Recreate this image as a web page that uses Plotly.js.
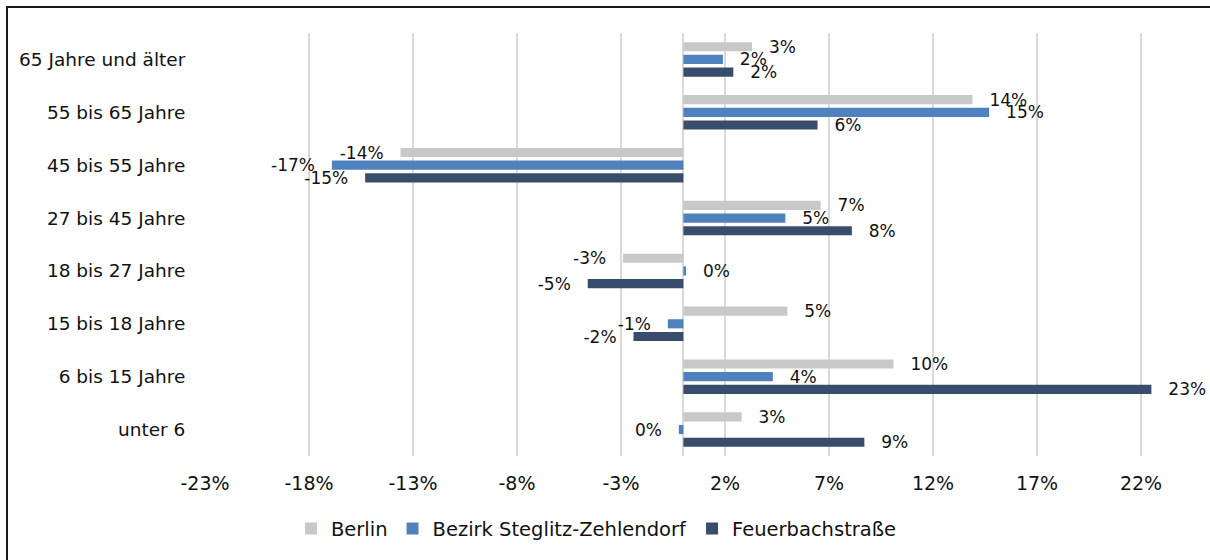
<!DOCTYPE html>
<html>
<head>
<meta charset="utf-8">
<script src="https://cdn.plot.ly/plotly-3.0.1.min.js"></script>
<style>
  html, body { margin: 0; padding: 0; background: #fff; }
  #wrap { position: relative; width: 1210px; height: 560px; overflow: hidden; }
  #chart { width: 1210px; height: 560px; }
  #frame { position: absolute; left: 6px; top: 6px; width: 1300px; height: 700px;
           border-top: 2px solid #1a1a1a; border-left: 2px solid #1a1a1a; pointer-events: none; }
</style>
</head>
<body>
<div id="wrap">
  <div id="chart"></div>
  <div id="frame"></div>
</div>
<script>
// Categories (top to bottom as shown)
const categories = ["65 Jahre und älter", "55 bis 65 Jahre", "45 bis 55 Jahre", "27 bis 45 Jahre",
                    "18 bis 27 Jahre", "15 bis 18 Jahre", "6 bis 15 Jahre", "unter 6"];
// Series values in percent
const seriesNames = ["Berlin", "Bezirk Steglitz-Zehlendorf", "Feuerbachstraße"];
const berlin    = [3.3, 13.9, -13.6, 6.6, -2.9, 5.0, 10.1, 2.8];
const bezirk    = [1.9, 14.7, -16.9, 4.9, 0.13, -0.75, 4.3, -0.22];
const feuerbach = [2.4, 6.45, -15.3, 8.1, -4.6, -2.4, 22.5, 8.7];
// Axis ticks
const tickVals = [-23, -18, -13, -8, -3, 2, 7, 12, 17, 22];
const tickText = tickVals.map(v => v + "%");

const colors = ["#c8c8c8", "#4f81bd", "#384d6c"];
const FONT = "DejaVu Sans";

function labels(vals) {
  return vals.map(v => {
    const r = Math.round(v);
    const s = (r === 0 ? 0 : r) + "%";
    return v >= 0 ? "\u2002\u00a0" + s : s + "\u2002\u00a0";
  });
}

const data = [berlin, bezirk, feuerbach].map((vals, i) => ({
  type: "bar",
  orientation: "h",
  name: seriesNames[i],
  y: categories,
  x: vals,
  text: labels(vals),
  textposition: "outside",
  constraintext: "none",
  cliponaxis: false,
  textfont: { family: FONT, size: 17, color: "#111" },
  marker: { color: colors[i] },
  hoverinfo: "x+y+name"
}));

const layout = {
  width: 1210,
  height: 560,
  margin: { l: 205, r: 17, t: 33, b: 104 },
  paper_bgcolor: "#ffffff",
  plot_bgcolor: "#ffffff",
  barmode: "group",
  bargap: 0.28,
  bargroupgap: 0.28,
  showlegend: true,
  legend: {
    orientation: "h",
    x: 0.087, xanchor: "left",
    y: -0.172, yanchor: "middle",
    font: { family: FONT, size: 19.5, color: "#111" },
    itemwidth: 30,
    bgcolor: "rgba(0,0,0,0)"
  },
  xaxis: {
    range: [-23, 24.5],
    tickmode: "array",
    tickvals: tickVals,
    ticktext: tickText,
    showgrid: true,
    gridcolor: "#d9d9d9",
    gridwidth: 2,
    zeroline: true,
    zerolinecolor: "#d9d9d9",
    zerolinewidth: 2,
    showline: false,
    ticks: "outside",
    ticklen: 10,
    tickcolor: "rgba(0,0,0,0)",
    tickfont: { family: FONT, size: 19, color: "#111" },
    fixedrange: true
  },
  yaxis: {
    type: "category",
    categoryorder: "array",
    categoryarray: categories,
    range: [7.5, -0.5],
    showgrid: false,
    zeroline: false,
    showline: false,
    ticks: "outside",
    ticklen: 15,
    tickcolor: "rgba(0,0,0,0)",
    tickfont: { family: FONT, size: 18.5, color: "#111" },
    fixedrange: true
  },
  font: { family: FONT, color: "#111" }
};

Plotly.newPlot("chart", data, layout, { displayModeBar: false, staticPlot: true });
</script>
</body>
</html>
